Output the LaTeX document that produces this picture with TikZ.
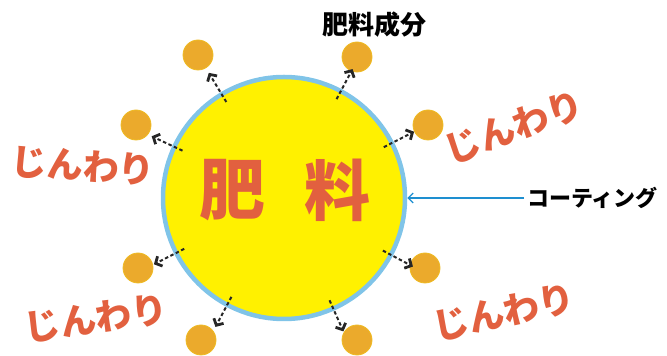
\documentclass[tikz,border=0pt]{standalone}
\usepackage{fontspec}
\newfontfamily\jp{Noto Sans CJK JP}
\usetikzlibrary{arrows.meta,calc}
\definecolor{coreyellow}{HTML}{FFF100}
\definecolor{ringblue}{HTML}{80C4E8}
\definecolor{dotorange}{HTML}{EBAA2C}
\definecolor{softred}{HTML}{E2603F}
\definecolor{linkblue}{HTML}{1E8FD0}
\tikzset{
  dot/.style={circle, fill=dotorange, draw=dotorange!80!yellow, line width=0.8pt, minimum size=30pt, inner sep=0pt},
  flow/.style={black!85, line width=2pt, dash pattern=on 3.5pt off 2.5pt,
    -{Straight Barb[length=5pt,width=11pt,line width=2.8pt]}},
  slow/.style={text=softred, font=\jp\bfseries\fontsize{36}{36}\selectfont},
  bigtext/.style={text=softred, font=\jp\bfseries\fontsize{66}{66}\selectfont},
}
\begin{document}
\begin{tikzpicture}[x=1pt,y=1pt]
\useasboundingbox (0,0) rectangle (667,356);
\node[circle, draw=ringblue, line width=4.5pt, fill=coreyellow, minimum size=242pt, inner sep=0pt] (core) at (284,158) {};
% dots
\node[dot] (d1) at (198,301) {};
\node[dot] (d2) at (357,299) {};
\node[dot] (d3) at (136,231) {};
\node[dot] (d4) at (428,231) {};
\node[dot] (d5) at (138,88) {};
\node[dot] (d6) at (425,88) {};
\node[dot] (d7) at (201,16) {};
\node[dot] (d8) at (357,16) {};
% arrows
\foreach \i/\a in {1/121,2/62,3/155,4/27,5/207,6/-28,7/242,8/-66}{
  \coordinate (s\i) at ($(core.center)+(\a:112)$);
  \coordinate (e\i) at ($(core.center)+(\a:146)$);
  \draw[flow] (s\i) -- (e\i);
}
% texts
\node[font=\jp\bfseries\fontsize{26}{26}\selectfont] (label) at (374,331) {肥料成分};
\node[bigtext] (hi) at (232,166) {肥};
\node[bigtext] (ryo) at (337,166) {料};
\node[font=\jp\bfseries\fontsize{22}{22}\selectfont, anchor=west, inner sep=3pt] (ct) at (524,158) {コーティング};
\draw[linkblue, line width=1.4pt, -{Straight Barb[length=5pt,width=10pt,line width=1.4pt]}] (ct.west) -- (ct.west -| core.east);
\node[slow, rotate=-4] (j1) at (83,190) {じんわり};
\node[slow, rotate=20] (j2) at (514,229) {じんわり};
\node[slow, rotate=8] (j3) at (96,38) {じんわり};
\node[slow, rotate=12] (j4) at (504,44) {じんわり};
\end{tikzpicture}
\end{document}
